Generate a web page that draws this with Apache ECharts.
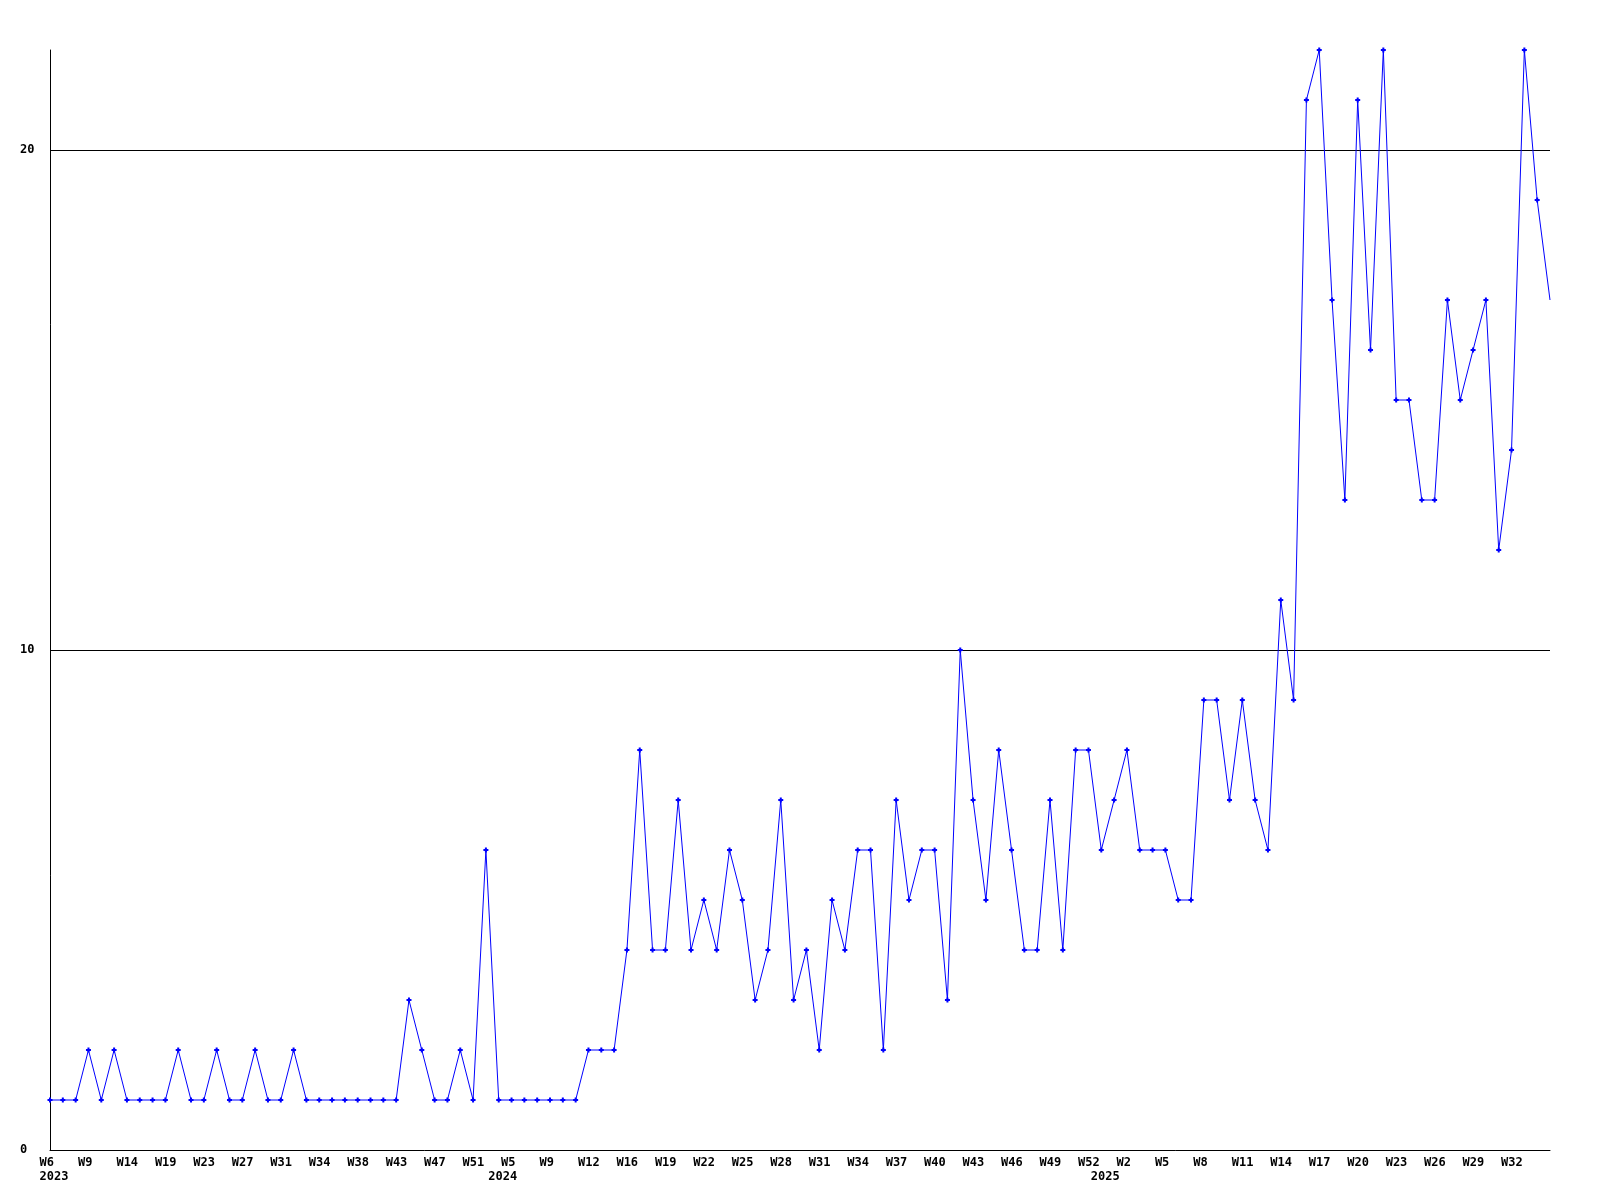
<!DOCTYPE html>
<html>
<head>
<meta charset="utf-8">
<script src="https://cdn.jsdelivr.net/npm/echarts@6/dist/echarts.min.js"></script>
<style>
  html, body { margin: 0; padding: 0; background: #ffffff; }
  #chart { width: 1600px; height: 1200px; }
</style>
</head>
<body>
<div id="chart"></div>
<script>
// Week categories (only weeks that appear in the chart), grouped by year
const weeks2023 = ["W6","W7","W8","W9","W10","W12","W14","W15","W17","W19","W20","W22","W23","W24","W26","W27","W28","W30","W31","W32","W33","W34","W35","W36","W38","W40","W42","W43","W44","W45","W47","W49","W50","W51","W52"];
const weeks2024 = ["W1","W5","W6","W8","W9","W10","W11","W12","W13","W15","W16","W17","W18","W19","W20","W21","W22","W23","W24","W25","W26","W27","W28","W29","W30","W31","W32","W33","W34","W35","W36","W37","W38","W39","W40","W41","W42","W43","W44","W45","W46","W47","W48","W49","W50","W51","W52"];
const weeks2025 = ["W0","W1","W2","W3","W4","W5","W6","W7","W8","W9","W10","W11","W12","W13","W14","W15","W16","W17","W18","W19","W20","W21","W22","W23","W24","W25","W26","W27","W28","W29","W30","W31","W32","W33","W34","W35"];

// Weekly values
const values = [
  1,1,1,2,1,2,1,1,1,1,
  2,1,1,2,1,1,2,1,1,2,
  1,1,1,1,1,1,1,1,3,2,
  1,1,2,1,6,1,1,1,1,1,
  1,1,2,2,2,4,8,4,4,7,
  4,5,4,6,5,3,4,7,3,4,
  2,5,4,6,6,2,7,5,6,6,
  3,10,7,5,8,6,4,4,7,4,
  8,8,6,7,8,6,6,6,5,5,
  9,9,7,9,7,6,11,9,21,22,
  17,13,21,16,22,15,15,13,13,17,
  15,16,17,12,14,22,19,17
];

// Y axis tick values
const yTicks = [0, 10, 20];
const yMax = 22;
const labelEvery = 3;

const categories = []
  .concat(weeks2023.map(w => "2023 " + w))
  .concat(weeks2024.map(w => "2024 " + w))
  .concat(weeks2025.map(w => "2025 " + w));

const lastIndex = categories.length - 1;
function yearOf(i) { return categories[i].split(" ")[0]; }
function isYearStart(i) { return i === 0 || yearOf(i) !== yearOf(i - 1); }
function showWeek(i) { return i % labelEvery === 0 && i !== lastIndex; }

const FONT = "'DejaVu Sans Mono', 'Liberation Mono', monospace";

const seriesData = values.map((v, i) =>
  i === values.length - 1 ? { value: v, symbol: "none" } : v
);

const chart = echarts.init(document.getElementById("chart"), null, { renderer: "canvas" });
chart.setOption({
  animation: false,
  backgroundColor: "#ffffff",
  grid: { left: 50, right: 50, top: 50, bottom: 50, containLabel: false },
  xAxis: {
    type: "category",
    data: categories,
    boundaryGap: false,
    axisLine: { show: true, lineStyle: { color: "#000000", width: 1 } },
    axisTick: { show: false },
    splitLine: { show: false },
    axisLabel: {
      show: true,
      hideOverlap: false,
      interval: function (i) { return showWeek(i) || isYearStart(i); },
      margin: 6,
      align: "center",
      formatter: function (value, i) {
        const parts = value.split(" ");
        const line1 = showWeek(i) ? "{w|" + parts[1] + "}" : "{w| }";
        return isYearStart(i) ? line1 + "\n{w|" + parts[0] + "}" : line1;
      },
      rich: {
        w: {
          width: 21,
          align: "left",
          fontFamily: FONT,
          fontSize: 12,
          fontWeight: "bold",
          color: "#000000",
          lineHeight: 14,
          overflow: "none"
        }
      }
    }
  },
  yAxis: {
    type: "value",
    min: yTicks[0],
    max: yMax,
    interval: yTicks[1] - yTicks[0],
    axisLine: { show: true, lineStyle: { color: "#000000", width: 1 } },
    axisTick: { show: false },
    splitLine: {
      show: true,
      showMinLine: false,
      showMaxLine: false,
      lineStyle: { color: "#000000", width: 1, type: "solid" }
    },
    axisLabel: {
      show: true,
      showMaxLabel: false,
      margin: 30,
      align: "left",
      fontFamily: FONT,
      fontSize: 12,
      fontWeight: "bold",
      color: "#000000"
    }
  },
  series: [{
    type: "line",
    data: seriesData,
    showAllSymbol: true,
    symbol: "path://M1.5,0L3.5,0L3.5,1.5L5,1.5L5,3.5L3.5,3.5L3.5,5L1.5,5L1.5,3.5L0,3.5L0,1.5L1.5,1.5Z",
    symbolSize: 5,
    itemStyle: { color: "#0000ff" },
    lineStyle: { color: "#0000ff", width: 1 },
    clip: true,
    emphasis: { disabled: true }
  }]
});
</script>
</body>
</html>
